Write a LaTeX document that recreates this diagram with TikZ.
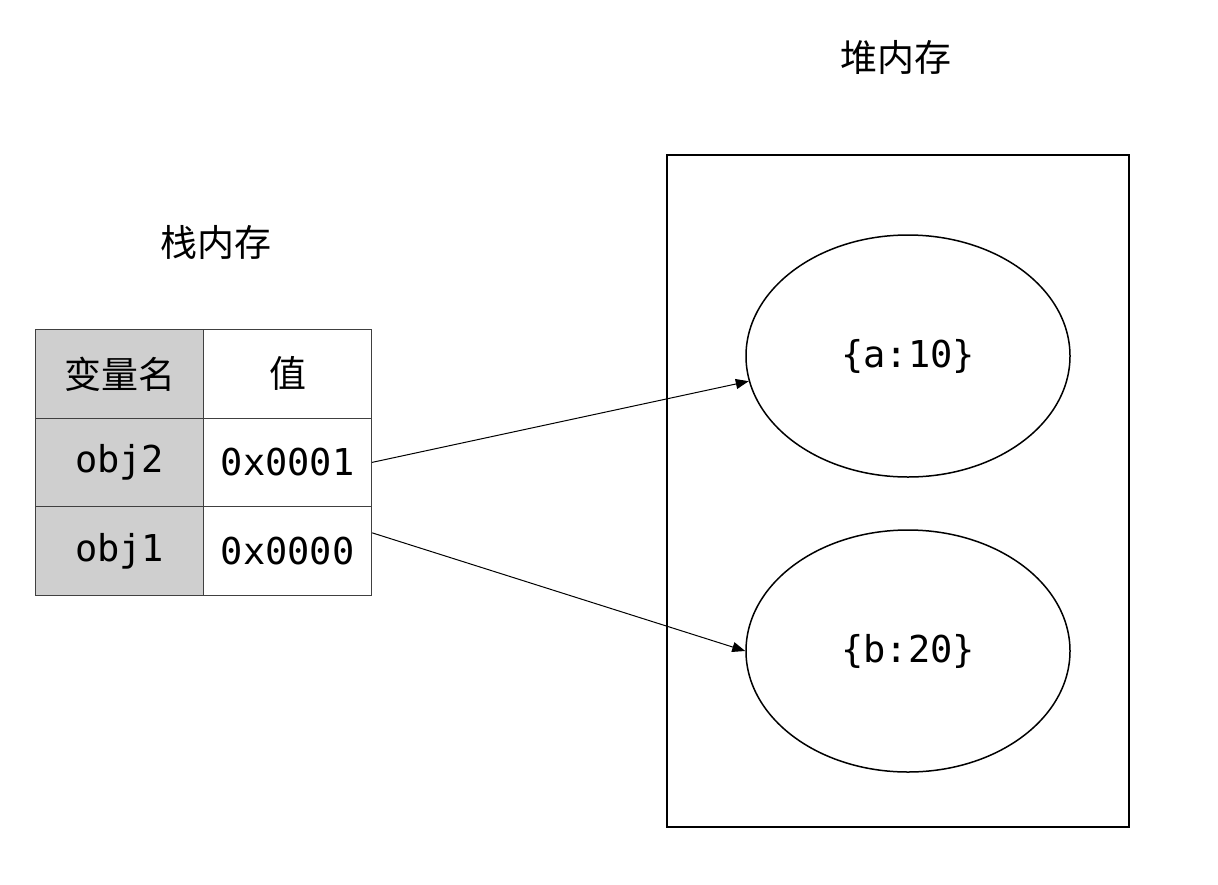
\documentclass[tikz,border=0pt]{standalone}
\usepackage{fontspec}
\newfontfamily\cjk{Noto Sans CJK SC}
\newfontfamily\mono{DejaVu Sans Mono}
\usetikzlibrary{arrows.meta,shapes.geometric}
\begin{document}
\begin{tikzpicture}[x=1pt,y=-1pt,
  cell/.style={draw=black!75,line width=1.2pt,minimum width=168pt,minimum height=88.5pt,inner sep=0pt,anchor=north west},
  gray/.style={cell,fill=black!19},
  lbl/.style={font=\cjk\fontsize{37}{42}\selectfont,inner sep=0pt},
  code/.style={font=\mono\fontsize{37}{42}\selectfont},
  obj/.style={draw,line width=1.5pt,ellipse,minimum width=324pt,minimum height=242pt,inner sep=0pt},
  arr/.style={line width=1pt,-{Triangle[length=13pt,width=10pt]}}]
\useasboundingbox (0,0) rectangle (1218,884);
\node[lbl] (heaplbl) at (896,57) {堆内存};
\node[lbl] (stacklbl) at (216,242) {栈内存};
\node[draw,line width=1.5pt,minimum width=462pt,minimum height=672pt,inner sep=0pt,anchor=north west] (heap) at (666,154) {};
\node[gray] (h1) at (35,329) {\cjk\fontsize{37}{42}\selectfont 变量名};
\node[cell] (h2) at (203,329) {\cjk\fontsize{37}{42}\selectfont 值};
\node[gray,code] (n2) at (35,417.5) {obj2};
\node[cell,code] (v2) at (203,417.5) {0x0001};
\node[gray,code] (n1) at (35,506) {obj1};
\node[cell,code] (v1) at (203,506) {0x0000};
\node[obj,code] (a) at (908,356) {\{a:10\}};
\node[obj,code] (b) at (908,651) {\{b:20\}};
\coordinate (s1) at ([yshift=18pt]v1.east);
\draw[arr] (v2.east) -- (a.189);
\draw[arr] (s1) -- (b.west);
\end{tikzpicture}
\end{document}
